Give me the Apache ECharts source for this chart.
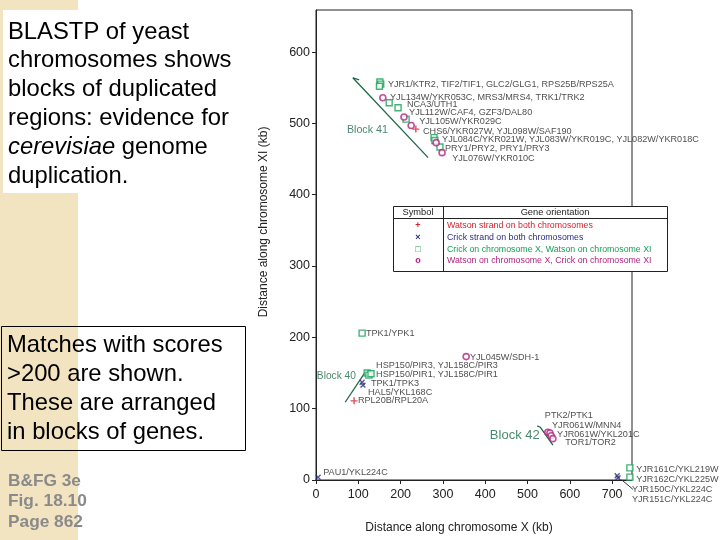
<!DOCTYPE html>
<html><head><meta charset="utf-8">
<script src="https://cdn.jsdelivr.net/npm/echarts/dist/echarts.min.js"></script>
<style>html,body{margin:0;padding:0;background:#fff}#c{width:720px;height:540px}</style>
</head><body><div id="c"></div>
<script>
// ---- data (kb along chromosome X, kb along chromosome XI) ----
const watsonBoth = [[236,492],[90,111]];
const crickBoth = [[109,137],[111,133],[712,6],[714,3],[5,4]];
const crickXWatsonXI = [[151,558],[153,555],[150,552],[173,529],[194,522],[213,506],[279,480],[281,476],[293,467],
  [109,206],[121,150],[125,147],[130,149],[742,17],[742,4]];
const watsonXCrickXI = [[158,536],[208,509],[225,497],[284,473],[298,459],[355,173],[548,67],[553,66],[556,62],[560,58]];
const geneLabels = [
  [170,554,'YJR1/KTR2, TIF2/TIF1, GLC2/GLG1, RPS25B/RPS25A'],
  [175,537,'YJL134W/YKR053C, MRS3/MRS4, TRK1/TRK2'],
  [215,527,'NCA3/UTH1'],
  [220,515,'YJL112W/CAF4, GZF3/DAL80'],
  [244,502,'YJL105W/YKR029C'],
  [253,489,'CHS6/YKR027W, YJL098W/SAF190'],
  [298,477,'YJL084C/YKR021W, YJL083W/YKR019C, YJL082W/YKR018C'],
  [305,465,'PRY1/PRY2, PRY1/PRY3'],
  [322,451,'YJL076W/YKR010C'],
  [118,206,'TPK1/YPK1'],
  [364,172,'YJL045W/SDH-1'],
  [142,160,'HSP150/PIR3, YJL158C/PIR3'],
  [142,148,'HSP150/PIR1, YJL158C/PIR1'],
  [130,136,'TPK1/TPK3'],
  [123,123,'HAL5/YKL168C'],
  [99,111,'RPL20B/RPL20A'],
  [541,91,'PTK2/PTK1'],
  [558,77,'YJR061W/MNN4'],
  [570,64,'YJR061W/YKL201C'],
  [589,52,'TOR1/TOR2'],
  [757,15,'YJR161C/YKL219W'],
  [757,1,'YJR162C/YKL225W'],
  [747,-13,'YJR150C/YKL224C'],
  [747,-27,'YJR151C/YKL224C'],
  [17,10,'PAU1/YKL224C']
];
const blockNames = [[73,491,'Block 41'],[2,146,'Block 40'],[411,63,'Block 42']];
const blockLines = [[[102,561],[87,564],[265,452]],[[69,109],[116,151]],[[523,76],[530,74],[560,49]]];
const leaderLine = [[723,0],[749,-13]];
const legendSymbols = ['+','×','□','o'];
const legendTexts = ['Watson strand on both chromosomes','Crick strand on both chromosomes',
  'Crick on chromosome X, Watson on chromosome XI','Watson on chromosome X, Crick on chromosome XI'];
const titleLines = ['BLASTP of yeast','chromosomes shows','blocks of duplicated','regions: evidence for','{i|cerevisiae} genome','duplication.'];
const noteLines = ['Matches with scores','>200 are shown.','These are arranged','in blocks of genes.'];
const refLines = ['B&FG 3e','Fig. 18.10','Page 862'];

// ---- styles ----
const RED='#d6222c', BLUE='#2c2e7e', GREEN='#17a058', MAG='#b0237f', BGREEN='#1d6a48';
const legendColors=[RED,BLUE,GREEN,MAG];
const blockFont=[10.7,10.2,13];
const FONT='Arial, "Liberation Sans", sans-serif';
const plusPath='path://M4,0H6V4H10V6H6V10H4V6H0V4H4Z';

const chart = echarts.init(document.getElementById('c'));
const series = [];
blockLines.forEach(l=>series.push({type:'line',data:l,symbol:'none',silent:true,clip:false,
  lineStyle:{color:BGREEN,width:1.3},z:2}));
series.push({type:'line',data:leaderLine,symbol:'none',clip:false,lineStyle:{color:'#333',width:1},z:2});
series.push({type:'scatter',data:crickXWatsonXI,symbol:'rect',symbolSize:6,clip:false,
  itemStyle:{color:'#fff',borderColor:GREEN,borderWidth:1.4},z:3});
series.push({type:'scatter',data:watsonXCrickXI,symbol:'circle',symbolSize:6,clip:false,
  itemStyle:{color:'#fff',borderColor:MAG,borderWidth:1.6},z:3});
series.push({type:'scatter',data:watsonBoth,symbol:plusPath,symbolSize:7,clip:false,itemStyle:{color:RED},z:4});
series.push({type:'scatter',data:crickBoth,symbol:plusPath,symbolSize:7,symbolRotate:45,clip:false,itemStyle:{color:BLUE},z:4});
series.push({type:'scatter',data:geneLabels,symbolSize:0,clip:false,z:5,encode:{x:0,y:1},
  label:{show:true,position:[0,0],align:'left',verticalAlign:'middle',formatter:p=>p.value[2],
    fontFamily:FONT,fontSize:9.1,color:'#222'}});
blockNames.forEach((b,i)=>series.push({type:'scatter',data:[b],symbolSize:0,clip:false,z:5,encode:{x:0,y:1},
  label:{show:true,position:[0,0],align:'left',verticalAlign:'middle',formatter:p=>p.value[2],
    fontFamily:FONT,fontSize:blockFont[i],color:BGREEN}}));

const graphic = [
  {type:'rect',shape:{x:0,y:0,width:78,height:540},style:{fill:'#f3e4c1'},z:0},
  {type:'rect',shape:{x:3,y:10,width:245,height:183},style:{fill:'#fff'},z:1},
  {type:'rect',shape:{x:1.5,y:326.5,width:244,height:124},style:{fill:'none',stroke:'#000',lineWidth:1},z:2}
];
titleLines.forEach((t,i)=>graphic.push({type:'text',x:8,y:32+i*28.8,z:3,
  style:{text:t,font:'23.8px '+FONT,fill:'#000',verticalAlign:'middle',
    rich:{i:{fontStyle:'italic',fontSize:23.8,fontFamily:FONT,fill:'#000'}}}}));
noteLines.forEach((t,i)=>graphic.push({type:'text',x:7,y:345+i*29,z:3,
  style:{text:t,font:'23.8px '+FONT,fill:'#000',verticalAlign:'middle'}}));
refLines.forEach((t,i)=>graphic.push({type:'text',x:8,y:481+i*20.5,z:3,
  style:{text:t,font:'bold 17.3px '+FONT,fill:'#8a8a8a',verticalAlign:'middle'}}));
graphic.push({type:'text',x:264,y:222,rotation:Math.PI/2,z:3,
  style:{text:'Distance along chromosome XI (kb)',font:'12px '+FONT,fill:'#222',align:'center',verticalAlign:'middle'}});
graphic.push({type:'text',x:459,y:528,z:3,
  style:{text:'Distance along chromosome X (kb)',font:'12px '+FONT,fill:'#222',align:'center',verticalAlign:'middle'}});
// legend table
const T={x:393,y:206,w:274,h:65,hd:12,col:50};
graphic.push({type:'rect',shape:{x:T.x+.5,y:T.y+.5,width:T.w,height:T.h},style:{fill:'#fff',stroke:'#222',lineWidth:1},z:10});
graphic.push({type:'line',shape:{x1:T.x,y1:T.y+T.hd+.5,x2:T.x+T.w,y2:T.y+T.hd+.5},style:{stroke:'#222',lineWidth:1},z:11});
graphic.push({type:'line',shape:{x1:T.x+T.col+.5,y1:T.y,x2:T.x+T.col+.5,y2:T.y+T.h},style:{stroke:'#222',lineWidth:1},z:11});
graphic.push({type:'text',x:T.x+T.col/2,y:T.y+6.5,z:11,style:{text:'Symbol',font:'9.3px '+FONT,fill:'#222',align:'center',verticalAlign:'middle'}});
graphic.push({type:'text',x:T.x+T.col+(T.w-T.col)/2,y:T.y+6.5,z:11,style:{text:'Gene orientation',font:'9.3px '+FONT,fill:'#222',align:'center',verticalAlign:'middle'}});
legendTexts.forEach((t,i)=>{
  const yy=T.y+20+i*11.6;
  graphic.push({type:'text',x:T.x+T.col/2,y:yy,z:11,style:{text:legendSymbols[i],font:'bold 9px '+FONT,fill:legendColors[i],align:'center',verticalAlign:'middle'}});
  graphic.push({type:'text',x:T.x+T.col+4,y:yy,z:11,style:{text:t,font:'8.8px '+FONT,fill:legendColors[i],align:'left',verticalAlign:'middle'}});
});

chart.setOption({
  animation:false,
  backgroundColor:'#fff',
  grid:{left:316,right:88,top:10,bottom:60,show:true,borderColor:'#222',borderWidth:1,backgroundColor:'transparent'},
  xAxis:{type:'value',min:0,max:747,interval:100,
    axisLine:{lineStyle:{color:'#222'}},axisTick:{show:true,length:4,lineStyle:{color:'#222'}},
    splitLine:{show:false},
    axisLabel:{showMaxLabel:false,fontFamily:FONT,fontSize:12.5,color:'#222',margin:8}},
  yAxis:{type:'value',min:0,max:659,interval:100,
    axisLine:{lineStyle:{color:'#222'}},axisTick:{show:true,length:4,lineStyle:{color:'#222'}},
    splitLine:{show:false},
    axisLabel:{showMaxLabel:false,fontFamily:FONT,fontSize:12.5,color:'#222',margin:6}},
  series:series,
  graphic:graphic
});
</script></body></html>
